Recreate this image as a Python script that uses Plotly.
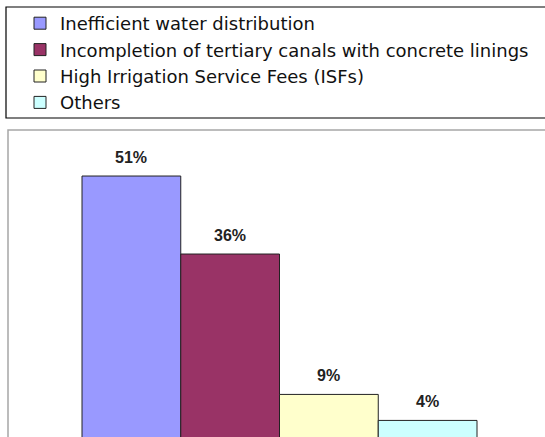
import plotly.graph_objects as go

# Reasons for problems, share of respondents (%)
categories = [
    "Inefficient water distribution",
    "Incompletion of tertiary canals with concrete linings",
    "High Irrigation Service Fees (ISFs)",
    "Others",
]
shares = [51, 36, 9, 4]
colors = ["#9999FF", "#993366", "#FFFFCC", "#CCFFFF"]

W, H = 545, 437

fig = go.Figure()
for i, (name, val, col) in enumerate(zip(categories, shares, colors)):
    fig.add_trace(go.Bar(
        x=[i], y=[val], name=name, width=1,
        legendgroup=f"g{i}",
        marker=dict(color=col, line=dict(color="#222222", width=1)),
        hoverinfo="skip",
    ))

# Value labels above each bar
for i, val in enumerate(shares):
    fig.add_annotation(
        x=i, y=val, text=f"{val}%", showarrow=False,
        xref="x", yref="y", yanchor="bottom", yshift=8,
        font=dict(family="Liberation Sans", size=16, color="#222222", weight="bold"),
    )

def px(x):
    return x / W

def py(y):
    return 1 - y / H

shapes = [
    # legend frame
    dict(type="rect", xref="paper", yref="paper",
         x0=px(6), x1=px(560), y0=py(118), y1=py(7),
         line=dict(color="#000000", width=1.2), fillcolor="rgba(0,0,0,0)", layer="below"),
    # chart frame
    dict(type="rect", xref="paper", yref="paper",
         x0=px(8), x1=px(560), y0=py(470), y1=py(130),
         line=dict(color="#A6A6A6", width=1.5), fillcolor="rgba(0,0,0,0)", layer="below"),
]

fig.update_layout(
    width=W, height=H,
    margin=dict(l=0, r=0, t=0, b=0),
    paper_bgcolor="white", plot_bgcolor="rgba(0,0,0,0)",
    barmode="overlay",
    showlegend=True,
    legend=dict(
        x=px(20), y=py(5), xanchor="left", yanchor="top",
        bgcolor="rgba(0,0,0,0)", borderwidth=0,
        font=dict(family="DejaVu Sans", size=18, color="#111111"),
        tracegroupgap=8, traceorder="normal",
        itemclick=False, itemdoubleclick=False,
    ),
    xaxis=dict(range=[-1.3304, 4.1886], visible=False, fixedrange=True),
    yaxis=dict(range=[0.81, 84.85], visible=False, fixedrange=True),
    shapes=shapes,
)

fig.write_html("out.html")
